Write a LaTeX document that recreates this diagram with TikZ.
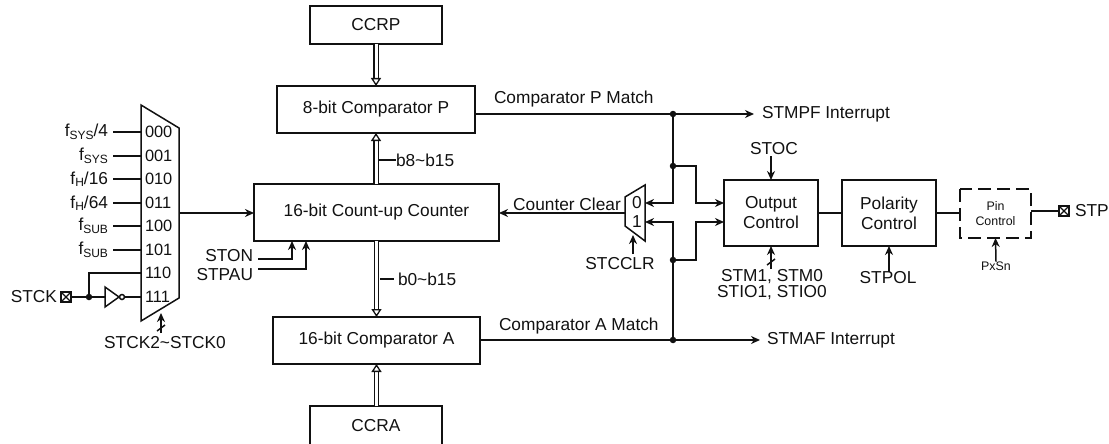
\documentclass[tikz,border=0pt]{standalone}
\usepackage{fontspec}
\setmainfont{Liberation Sans}
\usepackage{xcolor}
\usepackage{tikz}
\usetikzlibrary{arrows.meta, calc, positioning}
\definecolor{linecol}{HTML}{111111}
\newcommand{\lowtxt}[1]{\raisebox{-2.5pt}{\fontsize{12}{12}\selectfont #1}}
\begin{document}
\begin{tikzpicture}[
  x=1pt, y=-1pt,
  every node/.style = {font=\fontsize{17.3}{20}\selectfont, color=linecol, inner sep=0pt, outer sep=0pt},
  blockbox/.style = {draw=linecol, line width=1.5pt, align=center},
  digit/.style = {anchor=west, font=\fontsize{16.4}{19}\selectfont},
  smalltxt/.style = {font=\fontsize{12.4}{15}\selectfont, align=center},
  port/.style = {draw=linecol, line width=1.5pt, fill=white, minimum size=10pt,
    path picture={\draw[line width=1.3pt, color=linecol] (path picture bounding box.north west) -- (path picture bounding box.south east) (path picture bounding box.north east) -- (path picture bounding box.south west);}},
  dotnode/.style = {circle, fill=linecol, minimum size=6.5pt},
  wire/.style = {line width=1.5pt, color=linecol},
  arr/.style = {-{Stealth[length=9pt,width=8pt]}, line width=1.5pt, color=linecol},
  busarr/.style = {-{Triangle[open,length=8pt,width=10pt,line width=1.3pt]}, color=linecol, line width=1.3pt, double=white, double distance=3pt},
  slashline/.style = {line width=1.5pt, color=linecol},
]
\useasboundingbox (0,0) rectangle (1109,444);
% blocks
\node[blockbox, minimum width=132pt, minimum height=38pt] (ccrp) at (376, 25) {CCRP};
\node[blockbox, minimum width=198pt, minimum height=47pt] (cmpp) at (376, 109.5) {8-bit Comparator P};
\node[blockbox, minimum width=245pt, minimum height=57pt] (cnt) at (376.5, 212.5) {16-bit Count-up Counter};
\node[blockbox, minimum width=207pt, minimum height=47pt] (cmpa) at (376.5, 340.5) {16-bit Comparator A};
\node[blockbox, minimum width=132pt, minimum height=40pt] (ccra) at (376, 426) {CCRA};
\node[blockbox, minimum width=94pt, minimum height=66pt] (outc) at (771, 213) {Output\\Control};
\node[blockbox, minimum width=94pt, minimum height=66pt] (polc) at (889, 213) {Polarity\\Control};
\node[blockbox, draw=none, smalltxt, minimum width=71pt, minimum height=49pt] (pinc) at (995.5, 213.5) {Pin\\Control};
\draw[line width=1.5pt, color=linecol, dash pattern=on 13pt off 6pt] (pinc.north west) rectangle (pinc.south east);
% clock mux
\coordinate (mtl) at (141, 105);
\coordinate (mtr) at (179, 128);
\coordinate (mbr) at (179, 298);
\coordinate (mbl) at (141, 321);
\coordinate (mout) at (179, 213);
\draw[wire] (mtl) -- (mtr) -- (mbr) -- (mbl) -- cycle;
\node[digit] (d0) at (145, 132) {000};
\node[digit] (d1) at (145, 156) {001};
\node[digit] (d2) at (145, 179) {010};
\node[digit] (d3) at (145, 203) {011};
\node[digit] (d4) at (145, 226) {100};
\node[digit] (d5) at (145, 250) {101};
\node[digit] (d6) at (145, 273) {110};
\node[digit] (d7) at (145, 297) {111};
\node[anchor=east] (f0) at (108, 132) {f\lowtxt{SYS}/4};
\node[anchor=east] (f1) at (108, 156) {f\lowtxt{SYS}};
\node[anchor=east] (f2) at (108, 179) {f\lowtxt{H}/16};
\node[anchor=east] (f3) at (108, 203) {f\lowtxt{H}/64};
\node[anchor=east] (f4) at (108, 226) {f\lowtxt{SUB}};
\node[anchor=east] (f5) at (108, 250) {f\lowtxt{SUB}};
\coordinate (i0) at (141, 132);
\coordinate (i1) at (141, 156);
\coordinate (i2) at (141, 179);
\coordinate (i3) at (141, 203);
\coordinate (i4) at (141, 226);
\coordinate (i5) at (141, 250);
\coordinate (i6) at (141, 273);
\coordinate (i7) at (141, 297);
\draw[wire] ($(f0.east)+(5,0)$) -- (i0);
\draw[wire] ($(f1.east)+(5,0)$) -- (i1);
\draw[wire] ($(f2.east)+(5,0)$) -- (i2);
\draw[wire] ($(f3.east)+(5,0)$) -- (i3);
\draw[wire] ($(f4.east)+(5,0)$) -- (i4);
\draw[wire] ($(f5.east)+(5,0)$) -- (i5);
\node[anchor=east] (stck) at (57, 297) {STCK};
\node[port] (stckp) at (66, 297) {};
\node[dotnode] (stckd) at (89, 297) {};
\coordinate (invl) at (105, 297);
\coordinate (invr) at (119, 297);
\node[circle, draw=linecol, line width=1.5pt, minimum size=5pt] (bubble) at (122, 297) {};
\draw[wire] (stckp) -- (stckd);
\draw[wire] (stckd) -- (invl);
\draw[wire] (105, 287) -- (105, 307) -- (invr) -- cycle;
\draw[wire] (bubble) -- (i7);
\draw[wire] (stckd) -- (89, 273) -- (i6);
\coordinate (msel) at (161, 333);
\draw[arr] (msel) -- (161, 313);
\draw[slashline] (157, 331) -- (165, 325);
\node (stcksel) at (165, 343) {STCK2\textasciitilde STCK0};
\draw[arr] (mout) -- (cnt.west |- mout);
% buses
\draw[busarr] (ccrp.south) -- (cmpp.north);
\draw[busarr] (cnt.north -| cmpp.south) -- (cmpp.south);
\draw[busarr] (cnt.south) -- (cmpa.north);
\draw[busarr] (ccra.north -| cmpa.south) -- (cmpa.south);
\node[anchor=west] (b8) at (396, 160) {b8\textasciitilde b15};
\node[anchor=west] (b0) at (398, 279) {b0\textasciitilde b15};
\draw[wire] (379, 160) -- (b8.west);
\draw[wire] (380, 279) -- (394, 279);
% counter inputs
\node[anchor=east] (ston) at (253, 256) {STON};
\node[anchor=east] (stpau) at (253, 275) {STPAU};
\draw[arr] (258, 259) -- (292, 259) -- (292, 241);
\draw[arr] (258, 269) -- (306, 269) -- (306, 241);
% clear mux
\coordinate (ctl) at (625, 197);
\coordinate (ctr) at (645, 185);
\coordinate (cbr) at (645, 241);
\coordinate (cbl) at (625, 226);
\coordinate (cout) at (625, 213);
\draw[wire] (ctl) -- (ctr) -- (cbr) -- (cbl) -- cycle;
\node (c0) at (637, 203) {0};
\node (c1) at (637, 222) {1};
\draw[arr] (cout) -- (cnt.east |- cout);
\node[anchor=south] (cclr) at (567, 211) {Counter Clear};
\node (stcclr) at (620, 264) {STCCLR};
\draw[arr] (633, 254) -- (633, 235);
% match lines
\node[anchor=west] (matchp) at (494, 99) {Comparator P Match};
\node[anchor=west] (matcha) at (499, 326) {Comparator A Match};
\node[anchor=west] (intp) at (762, 114) {STMPF Interrupt};
\node[anchor=west] (inta) at (767, 340) {STMAF Interrupt};
\node[dotnode] (jp) at (673, 114) {};
\node[dotnode] (ja) at (673, 340) {};
\node[dotnode] (jpo) at (673, 166) {};
\node[dotnode] (jao) at (673, 260) {};
\draw[arr] (cmpp.east |- jp) -- ($(intp.west)+(-8,0)$);
\draw[arr] (cmpa.east |- ja) -- ($(inta.west)+(-7,0)$);
\draw[wire] (jp) -- (jpo);
\draw[arr] (jpo) -- (673, 203) -- (645, 203);
\draw[wire] (ja) -- (jao);
\draw[arr] (jao) -- (673, 222) -- (645, 222);
\draw[arr] (jpo) -- (696, 166) -- (696, 203) -- (724, 203);
\draw[arr] (jao) -- (696, 260) -- (696, 222) -- (724, 222);
% output side
\node (stoc) at (774, 149) {STOC};
\draw[arr] (771, 156) -- (outc.north);
\node (stm) at (772, 277) {STM1, STM0};
\node (stio) at (772, 293) {STIO1, STIO0};
\draw[arr] (771, 269) -- (outc.south);
\draw[slashline] (767, 265) -- (775, 259);
\node (stpol) at (888, 278) {STPOL};
\draw[arr] (stpol.north -| polc.south) -- (polc.south);
\node[smalltxt] (pxsn) at (996, 266) {PxSn};
\draw[arr] (pxsn.north) -- (pinc.south);
\draw[wire] (outc) -- (polc);
\draw[wire] (polc) -- (pinc.west |- polc);
\node[port] (stpp) at (1064, 211) {};
\node[anchor=west] (stp) at (1075, 211) {STP};
\draw[wire] (pinc.east |- stpp) -- (stpp);
\end{tikzpicture}
\end{document}
